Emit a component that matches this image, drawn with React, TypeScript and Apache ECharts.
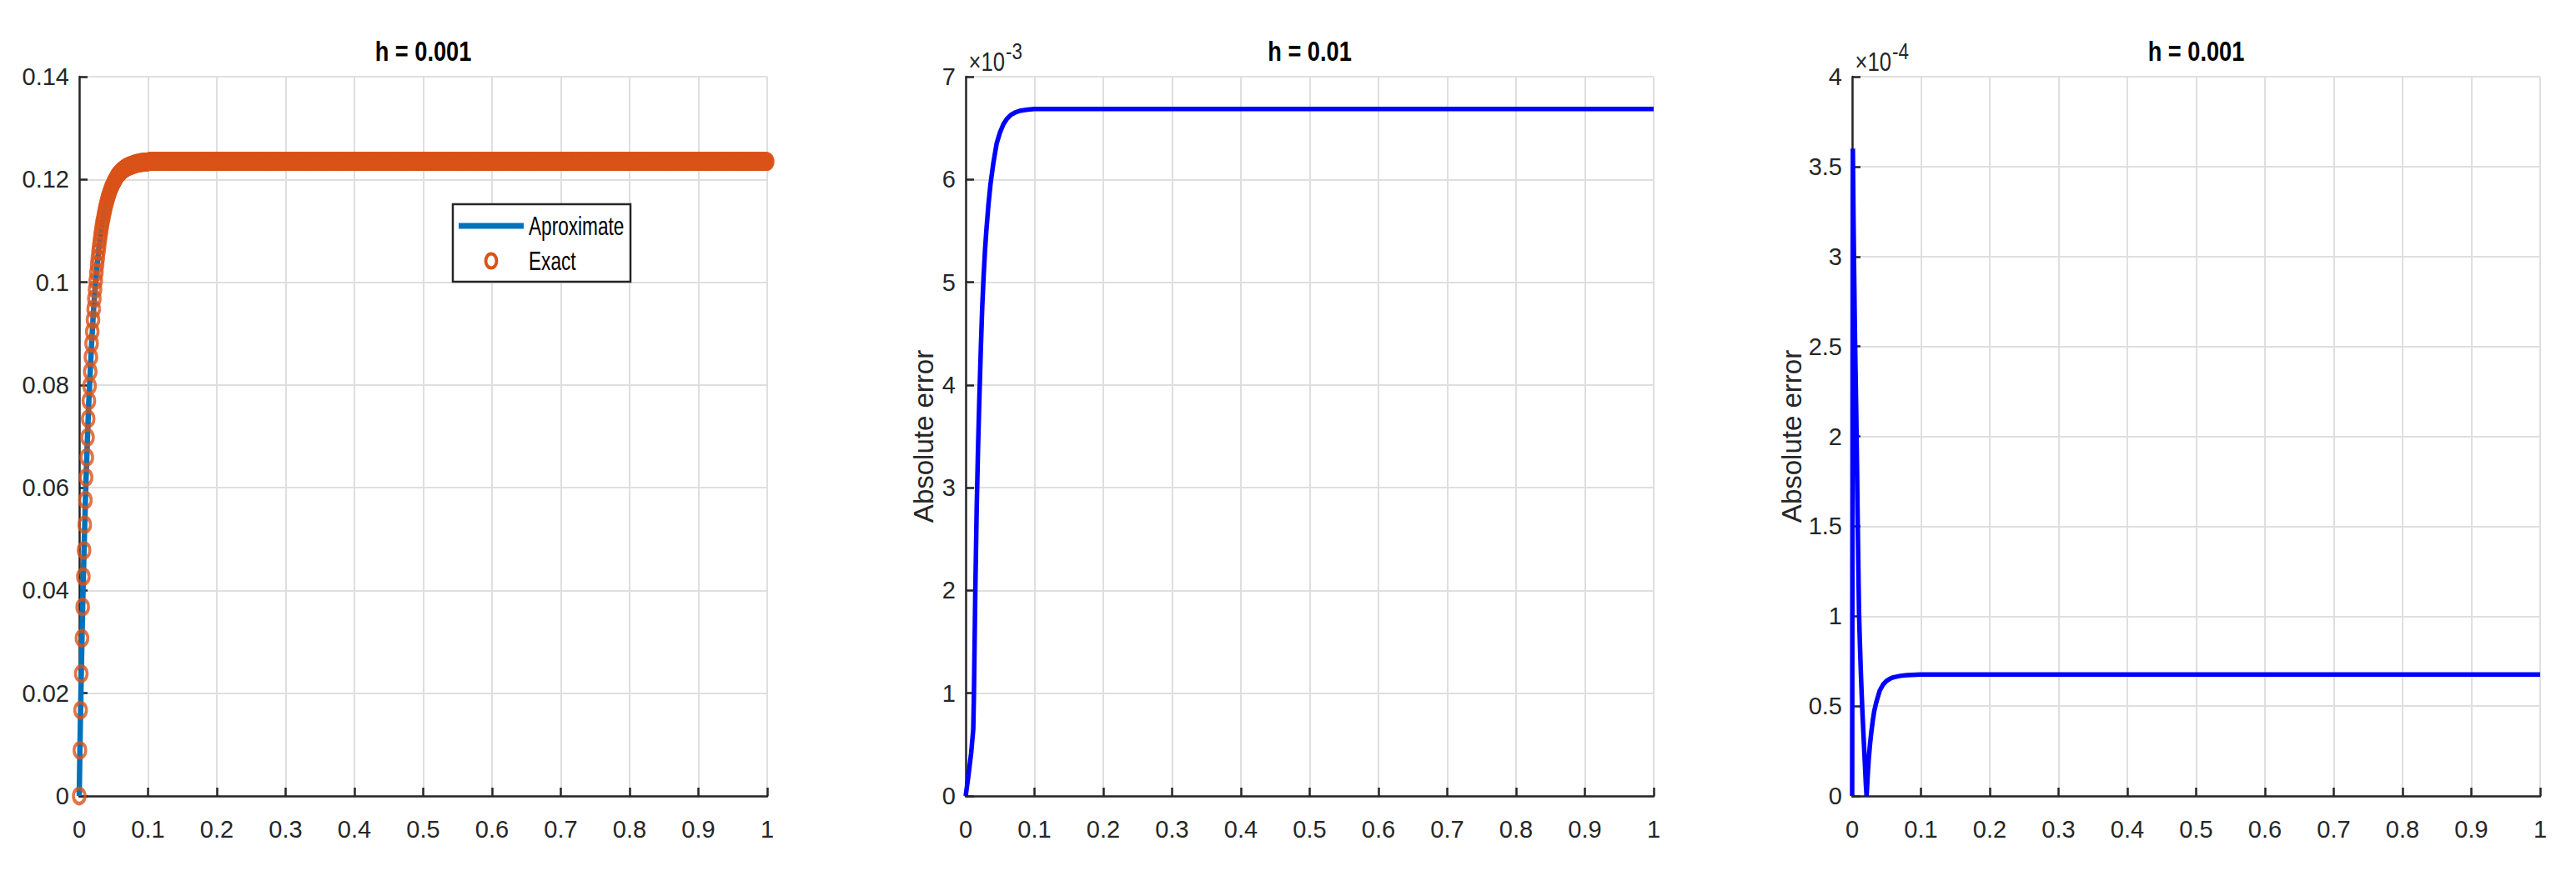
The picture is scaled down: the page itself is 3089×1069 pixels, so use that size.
import React, { useEffect, useRef } from 'react';
import * as echarts from 'echarts';

const FONT = "'Liberation Sans',Arial,Helvetica,sans-serif";
const NARROW = 0.8; // the reference's horizontal text compression

const panelTitles = ['h = 0.001', 'h = 0.01', 'h = 0.001'];
const legendNames = ['Aproximate', 'Exact'];
const yAxisLabel = 'Absolute error';
const exponentTexts = ['-3', '-4'];

// Left panel: exact solution sampled every h = 0.001 (rising part, t = 0 .. 0.1)
const leftStep = 0.001;
const exactRise = [
  0, 0.0089, 0.0167, 0.0238, 0.0307, 0.0368, 0.0427, 0.0478, 0.0528, 0.0576,
  0.0620, 0.0659, 0.0698, 0.0734, 0.0769, 0.0798, 0.0826, 0.0854, 0.0881, 0.0904,
  0.0927, 0.0948, 0.0968, 0.0986, 0.1003, 0.1019, 0.1034, 0.1047, 0.1060, 0.1071,
  0.1082, 0.1092, 0.1101, 0.1110, 0.1118, 0.1125, 0.1132, 0.1139, 0.1145, 0.1151,
  0.1156, 0.1161, 0.1166, 0.1170, 0.1174, 0.1178, 0.1182, 0.1185, 0.1188, 0.1191,
  0.1194, 0.1197, 0.1199, 0.1201, 0.1204, 0.1206, 0.1208, 0.1210, 0.1211, 0.1213,
  0.1214, 0.1216, 0.1217, 0.1218, 0.1219, 0.1220, 0.1221, 0.1222, 0.1223, 0.1224,
  0.1224, 0.1225, 0.1226, 0.1226, 0.1227, 0.1227, 0.1228, 0.1228, 0.1229, 0.1229,
  0.1230, 0.1230, 0.1231, 0.1231, 0.1231, 0.1232, 0.1232, 0.1232, 0.1232, 0.1233,
  0.1233, 0.1233, 0.1233, 0.1233, 0.1234, 0.1234, 0.1234, 0.1234, 0.1234, 0.1234,
  0.1234,
];
// flat level for t > 0.1
const exactPlateau = 0.1235;
const leftEnd = 1;

// Middle panel: absolute error, h = 0.01 (values in units of 1e-3)
const midT = [0, 0.004, 0.008, 0.011, 0.012, 0.013, 0.014, 0.015, 0.016, 0.017, 0.018, 0.019, 0.02, 0.022, 0.024, 0.026, 0.028, 0.03, 0.033, 0.036, 0.04, 0.045, 0.05, 0.055, 0.06, 0.066, 0.073, 0.08, 0.09, 0.1, 1];
const midErr = [0, 0.2, 0.42, 0.65, 1.0, 1.5, 2.0, 2.4, 2.8, 3.1, 3.4, 3.65, 3.9, 4.35, 4.75, 5.05, 5.3, 5.5, 5.75, 5.95, 6.15, 6.35, 6.46, 6.54, 6.59, 6.63, 6.655, 6.67, 6.68, 6.685, 6.685];

// Right panel: absolute error, h = 0.001 (values in units of 1e-4)
const rightT = [0, 0.001, 0.002, 0.003, 0.004, 0.005, 0.006, 0.007, 0.008, 0.009, 0.01, 0.011, 0.012, 0.013, 0.014, 0.015, 0.016, 0.017, 0.018, 0.019, 0.02, 0.021, 0.022, 0.023, 0.024, 0.026, 0.028, 0.03, 0.032, 0.035, 0.04, 0.045, 0.05, 0.055, 0.06, 0.07, 0.08, 0.1, 1];
const rightErr = [0, 3.6, 3.2, 2.88, 2.58, 2.35, 2.12, 1.85, 1.55, 1.28, 1.02, 0.88, 0.76, 0.65, 0.55, 0.46, 0.38, 0.3, 0.22, 0.14, 0.06, 0, 0.07, 0.14, 0.2, 0.29, 0.36, 0.42, 0.47, 0.52, 0.585, 0.62, 0.64, 0.652, 0.66, 0.668, 0.672, 0.675, 0.675];

const yRanges = [
  { max: 0.14, interval: 0.02 },
  { max: 7, interval: 1 },
  { max: 4, interval: 0.5 },
];

const GRID_TOP = 92;
const GRID_H = 863;
const GRID_W = 825;
const gridLefts = [95, 1158, 2221];

const fmt = (v: number) => String(Number(v.toFixed(4)));

export default function App() {
  const ref = useRef<HTMLDivElement>(null);
  useEffect(() => {
    if (!ref.current) return;
    const chart = echarts.init(ref.current, undefined, { renderer: 'svg' });

    const nSteps = Math.round(leftEnd / leftStep);
    const exactPoints: number[][] = [];
    for (let i = 0; i <= nSteps; i++) {
      const t = Number((i * leftStep).toFixed(3));
      exactPoints.push([t, i < exactRise.length ? exactRise[i] : exactPlateau]);
    }
    const approxPoints = exactRise.map((v, i) => [Number((i * leftStep).toFixed(3)), v]);
    approxPoints.push([leftEnd, exactPlateau]);
    const midPoints = midT.map((t, i) => [t, midErr[i]]);
    const rightPoints = rightT.map((t, i) => [t, rightErr[i]]);

    const axisLine = { show: true, onZero: false, lineStyle: { color: '#262626', width: 2.5 } };
    const axisTick = { show: true, inside: true, length: 10, lineStyle: { color: '#262626', width: 2.5 } };
    const splitLine = { show: true, lineStyle: { color: '#dfdfdf', width: 2 } };

    const grids = gridLefts.map((l) => ({ left: l, top: GRID_TOP, width: GRID_W, height: GRID_H, containLabel: false }));
    const xAxes = gridLefts.map((_, i) => ({
      type: 'value', gridIndex: i, min: 0, max: 1, interval: 0.1,
      axisLine, axisTick, splitLine,
      axisLabel: { color: '#262626', fontSize: 29, fontFamily: FONT, margin: 25, formatter: fmt },
    }));
    const yAxes = yRanges.map((r, i) => ({
      type: 'value', gridIndex: i, min: 0, max: r.max, interval: r.interval,
      axisLine, axisTick, splitLine,
      axisLabel: { color: '#262626', fontSize: 29, fontFamily: FONT, margin: 12, formatter: fmt },
      name: i === 0 ? '' : yAxisLabel,
      nameLocation: 'middle',
      nameRotate: 90,
      nameGap: i === 1 ? 34 : 45,
      nameTextStyle: { color: '#262626', fontSize: 33, fontFamily: FONT },
    }));

    const txt = (x: number, y: number, text: string, size: number, extra: any = {}) => ({
      type: 'text', x, y, scaleX: NARROW, z: 100,
      style: {
        text, fontSize: size, fontFamily: FONT, fill: '#262626',
        align: extra.align || 'left', textAlign: extra.align || 'left',
        verticalAlign: 'middle', textVerticalAlign: 'middle',
        fontWeight: extra.fontWeight || 'normal',
      },
    });

    const graphics: any[] = [];
    panelTitles.forEach((t, i) => {
      const g: any = txt(gridLefts[i] + GRID_W / 2, 61, t, 34, { align: 'center', fontWeight: 'bold' });
      g.style.fill = '#000';
      graphics.push(g);
    });
    exponentTexts.forEach((e, k) => {
      const x0 = gridLefts[k + 1];
      graphics.push(txt(x0 + 47, 74, '×10', 32, { align: 'right' }));
      graphics.push(txt(x0 + 48, 61, e, 28, { align: 'left' }));
    });

    // legend box (left panel)
    const LX = 543, LY = 245, LW = 213, LH = 93;
    graphics.push({
      type: 'rect', z: 90, shape: { x: LX, y: LY, width: LW, height: LH },
      style: { fill: '#ffffff', stroke: '#262626', lineWidth: 2.5 },
    });
    graphics.push({
      type: 'line', z: 95, shape: { x1: LX + 7, y1: LY + 26, x2: LX + 85, y2: LY + 26 },
      style: { stroke: '#0072BD', lineWidth: 7 },
    });
    graphics.push({
      type: 'ellipse', z: 95, shape: { cx: LX + 46, cy: LY + 68, rx: 6.5, ry: 8.5 },
      style: { fill: 'none', stroke: '#D95319', lineWidth: 3.8 },
    });
    const l1: any = txt(LX + 91, LY + 26, legendNames[0], 31);
    l1.style.fill = '#000';
    l1.scaleX = 0.73;
    const l2: any = txt(LX + 91, LY + 68, legendNames[1], 31);
    l2.style.fill = '#000';
    l2.scaleX = 0.73;
    graphics.push(l1, l2);

    chart.setOption({
      animation: false,
      backgroundColor: '#ffffff',
      grid: grids,
      xAxis: xAxes,
      yAxis: yAxes,
      graphic: graphics,
      series: [
        {
          name: legendNames[0], type: 'line', xAxisIndex: 0, yAxisIndex: 0, data: approxPoints,
          showSymbol: false, symbol: 'none', clip: false, silent: true, z: 2,
          lineStyle: { color: '#0072BD', width: 6.5 }, itemStyle: { color: '#0072BD' },
        },
        {
          name: legendNames[1], type: 'scatter', xAxisIndex: 0, yAxisIndex: 0, data: exactPoints,
          symbol: 'circle', symbolSize: [14, 18], clip: false, silent: true, z: 3,
          itemStyle: { color: 'rgba(0,0,0,0)', borderColor: '#D95319', borderWidth: 4 },
        },
        {
          name: 'err1', type: 'line', xAxisIndex: 1, yAxisIndex: 1, data: midPoints,
          showSymbol: false, symbol: 'none', silent: true, z: 2,
          lineStyle: { color: '#0000FF', width: 5.5 }, itemStyle: { color: '#0000FF' },
        },
        {
          name: 'err2', type: 'line', xAxisIndex: 2, yAxisIndex: 2, data: rightPoints,
          showSymbol: false, symbol: 'none', silent: true, z: 2,
          lineStyle: { color: '#0000FF', width: 5.5 }, itemStyle: { color: '#0000FF' },
        },
      ],
    });
    return () => chart.dispose();
  }, []);

  return (
    <div
      ref={ref}
      style={{ position: 'absolute', left: 0, top: 0, width: 3089, height: 1069, background: '#ffffff' }}
    />
  );
}
